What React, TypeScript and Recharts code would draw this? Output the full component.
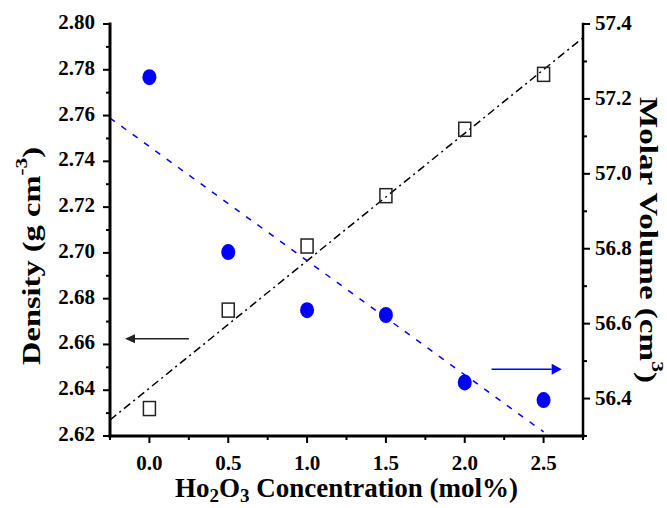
import { ComposedChart, Scatter, Line, XAxis, YAxis, ReferenceLine } from "recharts";

const FONT = '"Liberation Serif", "Times New Roman", serif';

// measured points
const concentration = [0, 0.5, 1.0, 1.5, 2.0, 2.5];
const density = [2.632, 2.675, 2.703, 2.725, 2.754, 2.778];
const molarVolume = [57.258, 56.791, 56.636, 56.623, 56.443, 56.396];

// linear fits as drawn (end points)
const densityFitX = [-0.25, 2.75];
const densityFitY = [2.627, 2.794];
const volumeFitX = [-0.25, 2.5];
const volumeFitY = [57.149, 56.311];

// arrows telling which axis each series belongs to
const densityArrowX = [0.25, -0.155];
const densityArrowY = 2.6625;
const volumeArrowX = [2.17, 2.615];
const volumeArrowY = 56.478;

// axes
const xDomain = [-0.25, 2.75];
const xMajor = [0, 0.5, 1.0, 1.5, 2.0, 2.5];
const xMinor = [-0.25, 0.25, 0.75, 1.25, 1.75, 2.25, 2.75];
const densityDomain = [2.62, 2.8];
const densityMajor = [2.62, 2.64, 2.66, 2.68, 2.7, 2.72, 2.74, 2.76, 2.78, 2.8];
const densityMinor = [2.63, 2.65, 2.67, 2.69, 2.71, 2.73, 2.75, 2.77, 2.79];
const volumeDomain = [56.3, 57.4];
const volumeMajor = [56.4, 56.6, 56.8, 57.0, 57.2, 57.4];
const volumeMinor = [56.3, 56.5, 56.7, 56.9, 57.1, 57.3];

const densityPoints = concentration.map((x, i) => ({ x, y: density[i] }));
const volumePoints = concentration.map((x, i) => ({ x, y: molarVolume[i] }));
const densityFit = densityFitX.map((x, i) => ({ x, y: densityFitY[i] }));
const volumeFit = volumeFitX.map((x, i) => ({ x, y: volumeFitY[i] }));

const sortTicks = (a: number[], b: number[]) => [...a, ...b].sort((p, q) => p - q);
const isMajor = (v: number, majors: number[]) => majors.some((m) => Math.abs(m - v) < 1e-6);

const textStyle = { fontFamily: FONT, fontWeight: 700, fill: "#000" };

function BottomTick(props: any) {
  const { x, y, payload } = props;
  const major = isMajor(payload.value, xMajor);
  return (
    <g>
      <line x1={x} x2={x} y1={y} y2={y + (major ? 7 : 4)} stroke="#000" strokeWidth={2} />
      {major && (
        <text x={x} y={y + 34} textAnchor="middle" style={{ ...textStyle, fontSize: 21 }}>
          {payload.value.toFixed(1)}
        </text>
      )}
    </g>
  );
}

function TopTick(props: any) {
  const { x, y, payload } = props;
  const major = isMajor(payload.value, xMajor);
  return <line x1={x} x2={x} y1={y} y2={y + (major ? 8 : 4)} stroke="#000" strokeWidth={2} />;
}

function LeftTick(props: any) {
  const { x, y, payload } = props;
  const major = isMajor(payload.value, densityMajor);
  return (
    <g>
      <line x1={x} x2={x - (major ? 7 : 4)} y1={y} y2={y} stroke="#000" strokeWidth={2} />
      {major && (
        <text x={x - 15} y={y + 5} textAnchor="end" style={{ ...textStyle, fontSize: 21 }}>
          {payload.value.toFixed(2)}
        </text>
      )}
    </g>
  );
}

function RightTick(props: any) {
  const { x, y, payload } = props;
  const major = isMajor(payload.value, volumeMajor);
  return (
    <g>
      <line x1={x} x2={x + (major ? 7 : 4)} y1={y} y2={y} stroke="#000" strokeWidth={2} />
      {major && (
        <text x={x + 12} y={y + 6} textAnchor="start" style={{ ...textStyle, fontSize: 21 }}>
          {payload.value.toFixed(1)}
        </text>
      )}
    </g>
  );
}

function DensityTitle(props: any) {
  const { x, y, height } = props.viewBox;
  const cx = x + 31;
  const cy = y + height / 2 + 26;
  return (
    <text
      x={cx}
      y={cy}
      transform={`rotate(-90 ${cx} ${cy})`}
      textAnchor="middle"
      dominantBaseline="central"
      textLength={218}
      lengthAdjust="spacingAndGlyphs"
      style={{ ...textStyle, fontSize: 26 }}
    >
      Density (g cm
      <tspan dy={-10} style={{ fontSize: 17 }}>-3</tspan>
      <tspan dy={10}>)</tspan>
    </text>
  );
}

function VolumeTitle(props: any) {
  const { x, y, height } = props.viewBox;
  const cx = x + 65;
  const cy = y + height / 2 + 10;
  return (
    <text
      x={cx}
      y={cy}
      transform={`rotate(90 ${cx} ${cy})`}
      textAnchor="middle"
      dominantBaseline="central"
      textLength={286}
      lengthAdjust="spacingAndGlyphs"
      style={{ ...textStyle, fontSize: 26 }}
    >
      Molar Volume (cm
      <tspan dy={-10} style={{ fontSize: 17 }}>3</tspan>
      <tspan dy={10}>)</tspan>
    </text>
  );
}

function ConcentrationTitle(props: any) {
  const { x, y, width } = props.viewBox;
  return (
    <text x={x + width / 2} y={y + 61} textAnchor="middle" style={{ ...textStyle, fontSize: 27 }}>
      Ho
      <tspan dy={5} style={{ fontSize: 19 }}>2</tspan>
      <tspan dy={-5}>O</tspan>
      <tspan dy={5} style={{ fontSize: 19 }}>3</tspan>
      <tspan dy={-5}> Concentration (mol%)</tspan>
    </text>
  );
}

const SquareMark = (props: any) => (
  <rect x={props.cx - 6} y={props.cy - 7} width={12} height={14} fill="none" stroke="#222" strokeWidth={1.5} />
);

const CircleMark = (props: any) => <ellipse cx={props.cx} cy={props.cy} rx={7} ry={8} fill="#0000ff" />;

const arrowShape = (color: string, head: number, half: number) => (props: any) => {
  const { x1, y1, x2, y2 } = props;
  const len = Math.hypot(x2 - x1, y2 - y1) || 1;
  const ux = (x2 - x1) / len;
  const uy = (y2 - y1) / len;
  const bx = x2 - ux * head;
  const by = y2 - uy * head;
  return (
    <g>
      <line x1={x1} y1={y1} x2={bx} y2={by} stroke={color} strokeWidth={1.5} />
      <polygon
        points={`${x2},${y2} ${bx - uy * half},${by + ux * half} ${bx + uy * half},${by - ux * half}`}
        fill={color}
      />
    </g>
  );
};

export default function App() {
  return (
    <div style={{ position: "absolute", left: 0, top: 0, background: "#fff" }}>
      <ComposedChart width={667} height={508} margin={{ top: 24, right: 0, bottom: 0, left: 0 }}>
        <XAxis
          dataKey="x"
          type="number"
          domain={xDomain}
          ticks={sortTicks(xMajor, xMinor)}
          interval={0}
          tickSize={0}
          tickMargin={0}
          tick={BottomTick}
          tickLine={false}
          axisLine={{ stroke: "#000", strokeWidth: 3, strokeLinecap: "square" }}
          height={72}
          label={{ content: ConcentrationTitle }}
        />
        <XAxis
          xAxisId="top"
          orientation="top"
          dataKey="x"
          type="number"
          domain={xDomain}
          ticks={sortTicks(xMajor, xMinor)}
          interval={0}
          tickSize={0}
          tickMargin={0}
          tick={TopTick}
          tickLine={false}
          axisLine={{ stroke: "#000", strokeWidth: 3, strokeLinecap: "square" }}
          height={0}
        />
        <YAxis
          yAxisId="left"
          dataKey="y"
          type="number"
          domain={densityDomain}
          ticks={sortTicks(densityMajor, densityMinor)}
          interval={0}
          tickSize={0}
          tickMargin={0}
          tick={LeftTick}
          tickLine={false}
          axisLine={{ stroke: "#000", strokeWidth: 3, strokeLinecap: "square" }}
          width={110}
          label={{ content: DensityTitle }}
        />
        <YAxis
          yAxisId="right"
          orientation="right"
          dataKey="y"
          type="number"
          domain={volumeDomain}
          ticks={sortTicks(volumeMajor, volumeMinor)}
          interval={0}
          tickSize={0}
          tickMargin={0}
          tick={RightTick}
          tickLine={false}
          axisLine={{ stroke: "#000", strokeWidth: 2.5, strokeLinecap: "square" }}
          width={84}
          label={{ content: VolumeTitle }}
        />

        <Line
          data={densityFit}
          dataKey="y"
          yAxisId="left"
          stroke="#000"
          strokeWidth={1.5}
          strokeDasharray="8 4 2 4"
          dot={false}
          activeDot={false}
          isAnimationActive={false}
        />
        <Line
          data={volumeFit}
          dataKey="y"
          yAxisId="right"
          stroke="#0000ff"
          strokeWidth={1.5}
          strokeDasharray="6 8"
          dot={false}
          activeDot={false}
          isAnimationActive={false}
        />

        <ReferenceLine
          yAxisId="left"
          segment={[
            { x: densityArrowX[0], y: densityArrowY },
            { x: densityArrowX[1], y: densityArrowY },
          ]}
          shape={arrowShape("#222", 10, 4.5)}
        />
        <ReferenceLine
          yAxisId="right"
          segment={[
            { x: volumeArrowX[0], y: volumeArrowY },
            { x: volumeArrowX[1], y: volumeArrowY },
          ]}
          shape={arrowShape("#0000ff", 10, 5.5)}
        />

        <Scatter data={densityPoints} yAxisId="left" shape={SquareMark} isAnimationActive={false} />
        <Scatter data={volumePoints} yAxisId="right" shape={CircleMark} isAnimationActive={false} />
      </ComposedChart>
    </div>
  );
}
